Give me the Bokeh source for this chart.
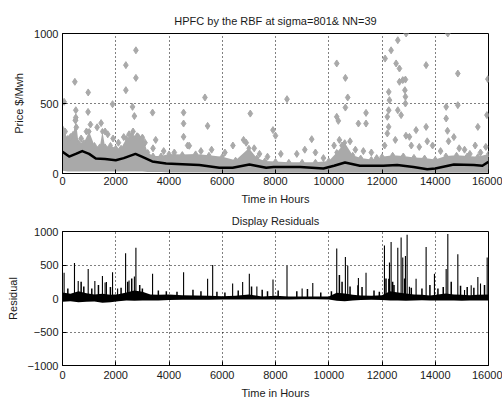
from bokeh.plotting import figure
from bokeh.layouts import column
from bokeh.models import Range1d, FixedTicker, ColumnDataSource, Spacer
from bokeh.embed import file_html
from bokeh.resources import INLINE

# ---------------- data ----------------
title_top = "HPFC by the RBF at sigma=801& NN=39"
title_bottom = "Display Residuals"
xlabel = "Time in Hours"
ylabel_top = "Price $/Mwh"
ylabel_bottom = "Residual"

x_ticks = [0, 2000, 4000, 6000, 8000, 10000, 12000, 14000, 16000]
y_ticks_top = [0, 500, 1000]
y_ticks_bottom = [-1000, -500, 0, 500, 1000]

# dense cloud of prices: envelope (hour, low, high)
band_hours = [0, 200, 400, 500, 600, 800, 1000, 1200, 1400, 1500, 1600, 1800, 2000, 2200, 2400,
              2600, 2800, 3000, 3200, 3400, 3700, 4000, 4500, 5000, 5500, 6000, 6500, 7000,
              7300, 7600, 8000, 8500, 9000, 9500, 10000, 10300, 10600, 10900, 11200, 11600,
              12000, 12400, 12800, 13200, 13600, 14000, 14400, 14800, 15200, 15600, 16000]
band_high = [320, 250, 280, 380, 220, 220, 300, 200, 190, 300, 190, 200, 180, 180, 250,
             270, 270, 260, 150, 125, 125, 140, 135, 140, 130, 120, 95, 180,
             110, 90, 85, 80, 80, 80, 90, 150, 220, 130, 110, 100,
             120, 130, 125, 115, 110, 100, 125, 130, 125, 120, 140]
band_low = [20, 15, 15, 15, 15, 15, 15, 15, 15, 15, 15, 15, 15, 15, 15,
            15, 15, 15, 10, 10, 10, 8, 8, 8, 8, 5, 5, 5,
            5, 5, 5, 5, 5, 5, 5, 5, 5, 5, 5, 5,
            5, 5, 5, 5, 5, 5, 5, 5, 5, 5, 5]

# scattered price points (hour, $/Mwh)
pt_hours = [60, 464, 965, 500, 500, 960, 1880, 2380, 2380, 2757, 2757, 2630, 2700, 3383,
            4548, 4548, 4548, 4761, 5350, 5450, 7054, 7906, 8432, 9360,
            10300, 10625, 10713, 10625, 10300, 10360, 11114, 11400, 11400,
            12117, 12342, 12254, 12280, 12254, 12200, 12250, 12200, 12593, 12530, 12655,
            12655, 12780, 12880, 12860, 12880, 12880, 12593, 12718, 12906, 13030,
            13657, 13657, 14472, 14410, 14410, 14460, 14848, 14848, 15975, 15940, 15600, 13280,
            100, 300, 480, 520, 700, 900, 1050, 1300, 1450, 1600, 1700, 1900, 2100, 2300,
            2500, 2650, 2850, 3000, 3100, 3500, 3400, 3800, 4200, 4700, 5200, 5600, 6100,
            6400, 6800, 6900, 7200, 7400, 7700, 8000, 8200, 8800, 9100, 9500, 9800,
            10200, 10400, 10500, 10800, 11000, 11300, 11600, 11800, 12100, 12500,
            12900, 13100, 13400, 13700, 13900, 14200, 14500, 14700, 14900, 15100, 15300,
            15500, 15700, 15900]
pt_values = [512, 655, 579, 452, 400, 440, 495, 774, 595, 880, 683, 476, 410, 435,
             435, 357, 262, 198, 543, 340, 428, 310, 531, 245,
             786, 683, 543, 471, 405, 376, 357, 433, 357,
             821, 880, 583, 524, 452, 405, 333, 286, 952, 786, 750,
             655, 667, 671, 595, 548, 500, 452, 417, 1000, 262,
             774, 333, 1000, 476, 393, 305, 714, 488, 674, 417, 333, 310,
             300, 260, 380, 330, 250, 300, 350, 330, 360, 300, 280, 250, 220, 260,
             280, 300, 260, 250, 220, 240, 180, 160, 150, 200, 160, 170, 150,
             200, 240, 220, 180, 140, 120, 270, 140, 140, 170, 150, 110,
             200, 240, 200, 230, 170, 160, 150, 110, 200, 240,
             270, 200, 190, 230, 200, 160, 230, 260, 180, 170, 140,
             200, 150, 190]

# RBF fit curve (hour, $/Mwh)
fit_hours = [0, 250, 500, 740, 1000, 1250, 1600, 2000, 2300, 2740, 3000, 3370, 3890, 4500,
             5140, 5890, 6390, 7020, 7650, 7930, 8930, 9800, 10200, 10610, 11170, 12050,
             12570, 13180, 13700, 14000, 14700, 15450, 15770, 16000]
fit_values = [155, 121, 140, 160, 140, 107, 104, 95, 110, 140, 118, 86, 71, 66,
              60, 41, 41, 64, 41, 47, 47, 36, 55, 79, 55, 55,
              60, 47, 31, 36, 64, 60, 55, 83]

# residuals: dense band (hour, low, high)
res_hours = [0, 300, 600, 900, 1200, 1500, 1800, 2100, 2400, 2700, 3000, 3300, 3600, 4000,
             4500, 5000, 5500, 6000, 6500, 7000, 7500, 8000, 8500, 9000, 9500, 10000, 10300,
             10600, 10900, 11200, 11600, 12000, 12300, 12600, 12900, 13200, 13500, 13800,
             14100, 14400, 14700, 15000, 15300, 15600, 16000]
res_high = [90, 70, 110, 80, 60, 70, 55, 65, 90, 120, 100, 60, 55, 60,
            50, 45, 40, 35, 40, 60, 30, 40, 30, 30, 28, 30, 85,
            75, 55, 45, 40, 50, 110, 90, 75, 60, 55, 45,
            60, 75, 60, 55, 50, 55, 60]
res_low = [-50, -40, -55, -50, -45, -65, -55, -40, -28, -35, -28, -28, -28, -22,
           -20, -20, -20, -16, -14, -14, -14, -16, -14, -10, -10, -14, -35,
           -40, -28, -22, -18, -22, -28, -28, -35, -28, -25, -28,
           -28, -28, -28, -32, -28, -28, -28]

# residual spikes, large (hour, residual)
spike_hours = [60, 450, 590, 965, 1215, 1500, 1600, 1650, 1880, 2070, 2370, 2500, 2757, 2700,
               3383, 4548, 5450, 5640, 6390, 6766, 7017, 7300, 7906, 8432, 9000, 9400,
               10300, 10625, 10713, 11090, 11114, 11400, 12092, 12280, 12342, 12250, 12593,
               12718, 12780, 12880, 12943, 13030, 13280, 13657, 13970, 14472, 14410, 14848,
               15100, 15350, 15600, 15700, 15950]
spike_values = [383, 529, 262, 442, 262, 335, 238, 248, 393, 150, 675, 270, 757, 330,
                369, 393, 296, 500, 223, 248, 369, 180, 282, 490, 150, 233,
                748, 621, 490, 199, 306, 383, 791, 539, 845, 296, 757,
                912, 612, 636, 951, 175, 296, 767, 369, 961, 442, 660,
                126, 199, 320, 223, 612]

# residual spikes, small (hour, residual)
small_hours = [200, 700, 800, 1100, 1350, 1800, 2200, 2450, 2600, 2900, 3000, 3600, 3900,
               4300, 4900, 5200, 5800, 6100, 6600, 7100, 7500, 7700, 8100, 8800, 9200, 9700,
               10100, 10400, 10500, 10800, 11250, 11700, 11900, 12150, 12400, 12450, 12850,
               13100, 13500, 13800, 14100, 14300, 14600, 14950, 15200, 15450, 15850]
small_values = [150, 250, 180, 150, 200, 170, 160, 250, 300, 200, 150, 120, 110,
                100, 130, 110, 100, 90, 120, 180, 130, 110, 120, 110, 140, 90,
                110, 350, 250, 180, 170, 120, 100, 300, 250, 200, 300,
                160, 150, 200, 150, 170, 250, 190, 170, 160, 200]

# ---------------- styling ----------------
FONT = "Liberation Sans"
TXT = "#1a1a1a"
GRAY = "#a9a9a9"


def style(p, yticks, xl, yl, tick_sd, label_sd):
    p.xaxis.ticker = FixedTicker(ticks=x_ticks)
    p.yaxis.ticker = FixedTicker(ticks=yticks)
    for ax in (p.xaxis[0], p.yaxis[0]):
        ax.major_tick_in = 4
        ax.major_tick_out = 0
        ax.minor_tick_line_color = None
        ax.axis_line_color = "black"
        ax.major_tick_line_color = "black"
        ax.major_label_text_font = FONT
        ax.major_label_text_font_size = "11px"
        ax.major_label_text_color = TXT
        ax.axis_label_text_font = FONT
        ax.axis_label_text_font_size = "11px"
        ax.axis_label_text_font_style = "normal"
        ax.axis_label_text_color = TXT
    p.xaxis.axis_label = xl
    p.yaxis.axis_label = yl
    p.xaxis.major_label_standoff = tick_sd
    p.xaxis.axis_label_standoff = label_sd
    p.yaxis.major_label_standoff = 4
    p.yaxis.axis_label_standoff = 6
    p.xgrid.ticker = FixedTicker(ticks=x_ticks[1:-1])
    p.ygrid.ticker = FixedTicker(ticks=yticks[1:-1])
    for g in (p.xgrid[0], p.ygrid[0]):
        g.grid_line_color = "black"
        g.grid_line_dash = "1 3"
        g.grid_line_width = 1
    p.outline_line_color = "black"
    p.outline_line_alpha = 1
    p.background_fill_color = "white"
    p.border_fill_color = "white"
    p.title.align = "center"
    p.title.text_font = FONT
    p.title.text_font_size = "11px"
    p.title.text_font_style = "normal"
    p.title.text_color = TXT


# ---------------- top figure ----------------
p1 = figure(frame_width=426, frame_height=140, output_backend="svg", toolbar_location=None,
            x_range=Range1d(0, 16000), y_range=Range1d(0, 1000), title=title_top,
            min_border_left=62, min_border_right=14, min_border_top=0, min_border_bottom=0)
style(p1, y_ticks_top, xlabel, ylabel_top, 3, 5)
p1.title.standoff = 13

band_src = ColumnDataSource(dict(x=band_hours, lo=band_low, hi=band_high))
p1.varea(x="x", y1="lo", y2="hi", source=band_src, fill_color=GRAY)
p1.scatter(band_hours, band_high, marker="diamond", size=6, color=GRAY)
p1.scatter(pt_hours, pt_values, marker="diamond", size=7, color=GRAY)
p1.line(fit_hours, fit_values, line_color="black", line_width=2.5, line_join="round")

# ---------------- bottom figure ----------------
p2 = figure(frame_width=426, frame_height=134, output_backend="svg", toolbar_location=None,
            x_range=Range1d(0, 16000), y_range=Range1d(-1000, 1000), title=title_bottom,
            min_border_left=62, min_border_right=14, min_border_top=0, min_border_bottom=0)
style(p2, y_ticks_bottom, xlabel, ylabel_bottom, 5, 5)
p2.title.standoff = 10

res_src = ColumnDataSource(dict(x=res_hours, lo=res_low, hi=res_high))
p2.varea(x="x", y1="lo", y2="hi", source=res_src, fill_color="black")
p2.segment(x0=small_hours, y0=[0] * len(small_hours), x1=small_hours, y1=small_values,
           line_color="black", line_width=1.5)
p2.segment(x0=spike_hours, y0=[0] * len(spike_hours), x1=spike_hours, y1=spike_values,
           line_color="black", line_width=1.1)

layout = column(Spacer(height=6), p1, p2, spacing=0)
open("out.html", "w").write(file_html(layout, INLINE))
